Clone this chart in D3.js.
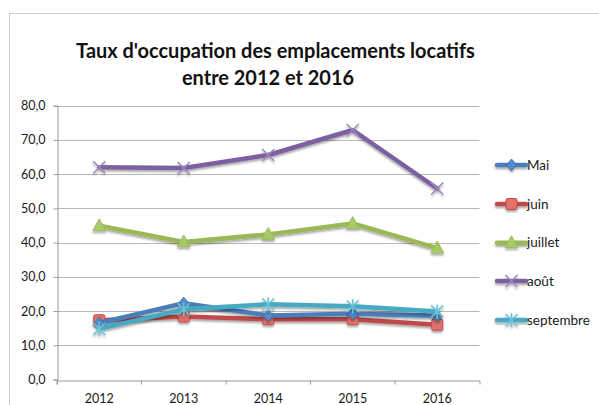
<!DOCTYPE html>
<html>
<head>
<meta charset="utf-8">
<script src="https://cdnjs.cloudflare.com/ajax/libs/d3/7.8.5/d3.min.js"></script>
<style>
  body { margin: 0; background: #fff; }
  .axis text { font-family: Lato, "Open Sans", sans-serif; font-size: 12.5px; fill: #1a1a1a; }
</style>
</head>
<body>
<script>
// data
var years = ["2012", "2013", "2014", "2015", "2016"];
var seriesNames = ["Mai", "juin", "juillet", "août", "septembre"];
var mai = [16.5, 22.3, 18.7, 19.2, 18.6];
var juin = [17.3, 18.4, 17.6, 17.6, 16.0];
var juillet = [44.9, 40.2, 42.4, 45.6, 38.4];
var aout = [62.0, 61.8, 65.6, 72.9, 55.8];
var septembre = [14.8, 20.5, 22.0, 21.4, 19.9];
var yTicks = [0, 10, 20, 30, 40, 50, 60, 70, 80];

var colors = ["#4a7ebb", "#be4b48", "#98b954", "#7d60a0", "#46aac5"];
var markers = ["diamond", "square", "triangle", "x", "star"];
var allSeries = [mai, juin, juillet, aout, septembre];

var W = 599, H = 405;
var svg = d3.select("body").append("svg").attr("width", W).attr("height", H);

var defs = svg.append("defs");
var f = defs.append("filter").attr("id", "sh").attr("x", "-20%").attr("y", "-20%").attr("width", "140%").attr("height", "160%");
f.append("feGaussianBlur").attr("in", "SourceAlpha").attr("stdDeviation", 1.2);
f.append("feOffset").attr("dx", 0).attr("dy", 2).attr("result", "o");
f.append("feComponentTransfer").append("feFuncA").attr("type", "linear").attr("slope", 0.35);
var m = f.append("feMerge");
m.append("feMergeNode");
m.append("feMergeNode").attr("in", "SourceGraphic");

// chart frame
svg.append("rect").attr("x", 9.5).attr("y", 13.5).attr("width", W).attr("height", H)
   .attr("fill", "#fff").attr("stroke", "#d0d0d0");

// title
var title = svg.append("text").attr("text-anchor", "middle")
   .attr("font-family", "Lato, 'Open Sans', sans-serif").attr("font-weight", "bold").attr("fill", "#111");
title.append("tspan").attr("x", 275.5).attr("y", 58).text("Taux d'occupation des emplacements locatifs");
title.append("tspan").attr("x", 268).attr("y", 85).text("entre 2012 et 2016");
title.attr("font-size", 20);
var tw = title.select("tspan").node().getComputedTextLength();
title.attr("font-size", 20 * 399 / tw);

var x0 = 57, x1 = 479.5, yTop = 105.7, yBot = 379.5;
var x = d3.scaleBand().domain(years).range([x0, x1]);
var y = d3.scaleLinear().domain([0, 80]).range([yBot, yTop]);

// grid
svg.append("g").selectAll("line").data(yTicks.slice(1)).enter().append("line")
   .attr("x1", x0).attr("x2", x1)
   .attr("y1", function(d){ return Math.round(y(d)) + 0.5; })
   .attr("y2", function(d){ return Math.round(y(d)) + 0.5; })
   .attr("stroke", "#b8b8b8").attr("stroke-width", 1);

// y axis
var yAxis = d3.axisLeft(y).tickValues(yTicks).tickSize(4).tickPadding(8)
   .tickFormat(function(d){ return d3.format(".1f")(d).replace(".", ","); });
var gy = svg.append("g").attr("class", "axis").attr("transform", "translate(" + (x0 + 0.5) + ",0)").call(yAxis);
gy.selectAll("path,line").attr("stroke", "#9a9a9a");

// x axis
var xAxis = d3.axisBottom(x).tickSize(4).tickPadding(10).tickSizeOuter(4);
var gx = svg.append("g").attr("class", "axis").attr("transform", "translate(0," + (Math.round(yBot) + 0.5) + ")").call(xAxis);
gx.selectAll("path,line").attr("stroke", "#9a9a9a");
// ticks between categories (Excel style)
gx.selectAll(".tick line").attr("x1", -x.bandwidth() / 2).attr("x2", -x.bandwidth() / 2);

function cx(i){ return x(years[i]) + x.bandwidth() / 2; }

function drawMarker(g, type, color, px, py) {
  var dark = d3.color(color).darker(0.6);
  if (type === "diamond") {
    g.append("path").attr("d", "M" + px + "," + (py - 6) + "L" + (px + 5) + "," + py + "L" + px + "," + (py + 6) + "L" + (px - 5) + "," + py + "Z")
     .attr("fill", d3.color(color).brighter(0.3)).attr("stroke", dark).attr("stroke-width", 0.8);
  } else if (type === "square") {
    g.append("rect").attr("x", px - 5.5).attr("y", py - 5.5).attr("width", 11).attr("height", 11).attr("rx", 1.5)
     .attr("fill", "#e2706d").attr("stroke", color).attr("stroke-width", 1);
  } else if (type === "triangle") {
    g.append("path").attr("d", "M" + px + "," + (py - 7) + "L" + (px + 6.5) + "," + (py + 5) + "L" + (px - 6.5) + "," + (py + 5) + "Z")
     .attr("fill", "#a6c96a").attr("stroke", color).attr("stroke-width", 0.8);
  } else if (type === "x") {
    g.append("path").attr("d", "M" + (px - 6) + "," + (py - 6) + "L" + (px + 6) + "," + (py + 6) + "M" + (px + 6) + "," + (py - 6) + "L" + (px - 6) + "," + (py + 6))
     .attr("stroke", "#9b87bb").attr("stroke-width", 1.5);
  } else if (type === "star") {
    g.append("path").attr("d", "M" + (px - 6) + "," + (py - 6) + "L" + (px + 6) + "," + (py + 6) + "M" + (px + 6) + "," + (py - 6) + "L" + (px - 6) + "," + (py + 6) + "M" + px + "," + (py - 7) + "L" + px + "," + (py + 7))
     .attr("stroke", "#6cc3d9").attr("stroke-width", 1.5);
  }
}

var line = d3.line().x(function(d, i){ return cx(i); }).y(function(d){ return y(d); });

var order = [2, 3, 1, 0, 4];
order.forEach(function(k) {
  var g = svg.append("g").attr("filter", "url(#sh)");
  g.append("path").datum(allSeries[k]).attr("d", line)
   .attr("fill", "none").attr("stroke", colors[k]).attr("stroke-width", 4.5)
   .attr("stroke-linejoin", "round").attr("stroke-linecap", "round");
  allSeries[k].forEach(function(v, i){ drawMarker(g, markers[k], colors[k], cx(i), y(v)); });
});

// legend
var legendY = [165, 204, 242.7, 281, 320];
seriesNames.forEach(function(name, k) {
  var g = svg.append("g").attr("transform", "translate(0," + legendY[k] + ")");
  var gg = g.append("g").attr("filter", "url(#sh)");
  gg.append("line").attr("x1", 497).attr("x2", 526).attr("y1", 0).attr("y2", 0)
    .attr("stroke", colors[k]).attr("stroke-width", 4.5).attr("stroke-linecap", "round");
  drawMarker(gg, markers[k], colors[k], 511.5, 0);
  g.append("text").attr("x", 527).attr("y", 4.5)
   .attr("font-family", "Lato, 'Open Sans', sans-serif").attr("font-size", 13.5).attr("fill", "#1a1a1a").text(name);
});
</script>
</body>
</html>
